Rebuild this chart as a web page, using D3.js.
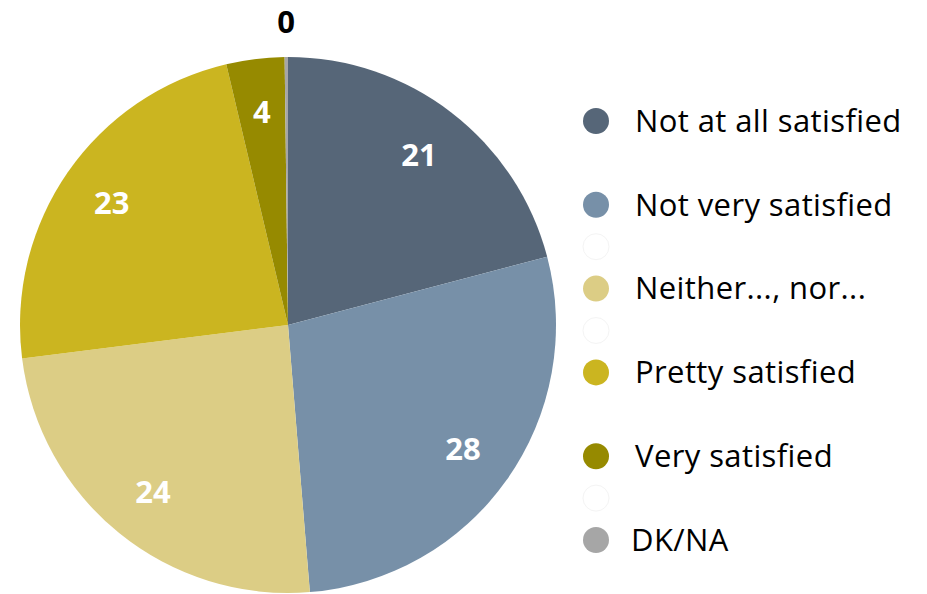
<!DOCTYPE html>
<html>
<head>
<meta charset="utf-8">
<script src="https://cdn.jsdelivr.net/npm/d3@7"></script>
<style>
  body { margin: 0; background: #fff; }
  svg { display: block; }
</style>
</head>
<body>
<div id="chart"></div>
<script>
var categories = ["Not at all satisfied", "Not very satisfied", "Neither..., nor...", "Pretty satisfied", "Very satisfied", "DK/NA"];
var values = [20.9, 27.8, 24.3, 23.3, 3.5, 0.2];
var labels = ["21", "28", "24", "23", "4", "0"];
var colors = ["#566678", "#7790a8", "#dccd85", "#cbb520", "#968a00", "#a6a6a6"];
// legend slots, null = blank entry (faint circle only)
var legendSlots = [0, -1, 1, null, 2, null, 3, -1, 4, null, 5];

var width = 927, height = 594;
var cx = 288, cy = 325, radius = 268;

var svg = d3.select("#chart").append("svg")
    .attr("width", width)
    .attr("height", height);

var pie = d3.pie().sort(null).value(function(d){ return d; });
var arcs = pie(values);
var arc = d3.arc().innerRadius(0).outerRadius(radius);
var labelArc = d3.arc().innerRadius(radius * 0.8).outerRadius(radius * 0.8);

var g = svg.append("g").attr("transform", "translate(" + cx + "," + cy + ")");

g.selectAll("path.slice")
    .data(arcs)
    .enter().append("path")
    .attr("class", "slice")
    .attr("d", arc)
    .style("fill", function(d, i){ return colors[i]; });

g.selectAll("text.lbl")
    .data(arcs)
    .enter().append("text")
    .attr("class", "lbl")
    .attr("transform", function(d, i){
        var c = labelArc.centroid(d);
        //tiny slice gets its label outside
        if(i == 5){
            var a = (d.startAngle + d.endAngle) / 2;
            c = [Math.sin(a) * (radius + 35), -Math.cos(a) * (radius + 35)];
        }
        return "translate(" + c[0] + "," + c[1] + ")";
    })
    .attr("text-anchor", "middle")
    .attr("dy", "0.36em")
    .style("font-family", "'Open Sans', sans-serif")
    .style("font-weight", "bold")
    .style("font-size", "31px")
    .style("fill", function(d, i){ return i == 5 ? "#000" : "#fff"; })
    .text(function(d, i){ return labels[i]; });

var ly = d3.scaleLinear().domain([0, legendSlots.length - 1]).range([121, 540]);

var legend = svg.append("g");
legendSlots.forEach(function(s, k){
    if(s === -1) return;
    var y = ly(k);
    if(s === null){
        legend.append("circle")
            .attr("cx", 596).attr("cy", y).attr("r", 13)
            .style("fill", "#fff")
            .style("stroke", "#f4f4f4")
            .style("stroke-width", 1);
        return;
    }
    legend.append("circle")
        .attr("cx", 596).attr("cy", y).attr("r", 13)
        .style("fill", colors[s]);
    legend.append("text")
        .attr("x", s == 5 ? 631 : 635)
        .attr("y", y)
        .attr("dy", "0.35em")
        .style("font-family", "'Open Sans', sans-serif")
        .style("font-size", "31px")
        .style("letter-spacing", "0.4px")
        .style("fill", "#000")
        .text(categories[s]);
});
</script>
</body>
</html>
